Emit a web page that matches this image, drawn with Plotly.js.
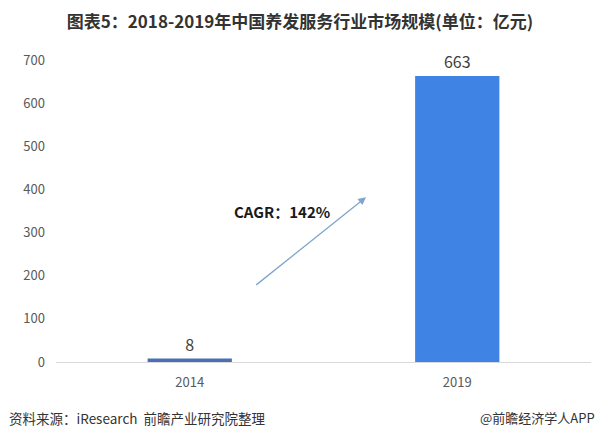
<!DOCTYPE html>
<html><head><meta charset="utf-8">
<script src="https://cdn.plot.ly/plotly-3.0.1.min.js"></script>
<style>html,body{margin:0;padding:0;background:#fff}#chart{width:600px;height:441px}</style>
</head><body><div id="chart"></div>
<script>
const categories = ["2014", "2019"];
const values = [8, 663];
const yTicks = [0, 100, 200, 300, 400, 500, 600, 700];
const cagrText = "CAGR：142%";
const titleText = "图表5：2018-2019年中国养发服务行业市场规模(单位：亿元)";
const sourceText = "资料来源：iResearch  前瞻产业研究院整理";
const creditText = "@前瞻经济学人APP";

const barColors = ["#4a6fb5", "#3f83e4"];
const font = "'Noto Sans CJK SC', 'Open Sans', sans-serif";

const trace = {
  type: "bar",
  x: categories,
  y: values,
  text: values.map(String),
  textposition: "outside",
  cliponaxis: false,
  textfont: {size: 16, color: "#404040", family: font},
  marker: {color: barColors},
  hoverinfo: "none"
};

const layout = {
  width: 600, height: 441,
  margin: {l: 56, r: 9, t: 60, b: 79},
  paper_bgcolor: "#fff", plot_bgcolor: "#fff",
  showlegend: false,
  bargap: 0.685,
  font: {family: font, color: "#595959"},
  title: {text: "<b>" + titleText + "</b>", x: 0.5, xanchor: "center", y: 1 - 22/441, yanchor: "middle",
          font: {size: 17, color: "#333333", family: font}},
  xaxis: {type: "category", showline: true, linecolor: "#d9d9d9", linewidth: 1, ticks: "",
          tickfont: {size: 13, color: "#595959"}, showgrid: false, zeroline: false, ticklabelstandoff: 8},
  yaxis: {range: [0, 700], tickvals: yTicks, showgrid: false, zeroline: false, showline: false,
          tickfont: {size: 13, color: "#595959"}, ticks: "", ticklabelstandoff: 10},
  annotations: [
    {xref: "x", yref: "y", x: 0.659, y: 382, axref: "x", ayref: "y", ax: 0.243, ay: 176,
     showarrow: true, arrowhead: 2, arrowsize: 1.2, arrowwidth: 1.3, arrowcolor: "#7ea6cc", text: ""},
    {xref: "x", yref: "y", x: 0.345, y: 348, text: "<b>" + cagrText + "</b>", showarrow: false,
     font: {size: 15, color: "#1a1a1a", family: font}, xanchor: "center", yanchor: "middle"},
    {xref: "paper", yref: "paper", x: -0.0916, y: -0.185, text: sourceText, showarrow: false,
     xanchor: "left", yanchor: "middle", font: {size: 13.5, color: "#333333", family: font}},
    {xref: "paper", yref: "paper", x: 1.011, y: -0.185, text: creditText, showarrow: false,
     xanchor: "right", yanchor: "middle", font: {size: 13, color: "#333333", family: font}}
  ]
};

Plotly.newPlot("chart", [trace], layout, {displayModeBar: false, staticPlot: true});
</script></body></html>
